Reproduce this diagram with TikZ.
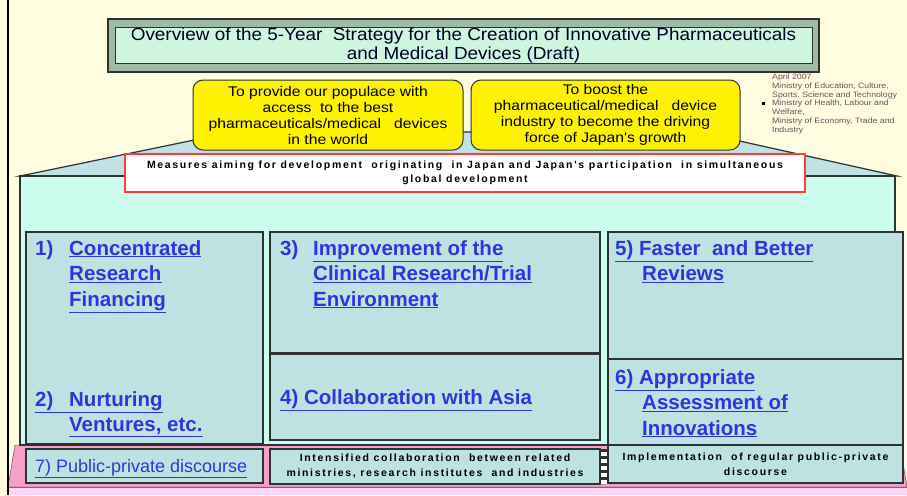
\documentclass[tikz,border=0pt]{standalone}
\definecolor{stratcream}{RGB}{255, 252, 224}
\definecolor{stratroof}{RGB}{192, 226, 228}
\definecolor{stratmint}{RGB}{204, 252, 238}
\definecolor{stratpanel}{RGB}{190, 226, 226}
\definecolor{stratblue}{RGB}{51, 51, 221}
\definecolor{stratred}{RGB}{255, 60, 60}
\definecolor{stratpink}{RGB}{244, 160, 200}
\definecolor{stratlightpink}{RGB}{255, 212, 245}
\definecolor{stratgreen}{RGB}{208, 245, 222}
\definecolor{stratbevel}{RGB}{160, 186, 166}
\definecolor{stratdark}{RGB}{45, 50, 50}
\definecolor{stratnote}{RGB}{110, 80, 95}
\usepackage{fontspec}
\setmainfont{Liberation Sans}
\newfontfamily\headfont[FakeStretch=1.08]{Liberation Sans}
\newfontfamily\goalfont[FakeStretch=1.12]{Liberation Sans}
\newfontfamily\trackfont[LetterSpace=16]{Liberation Sans}
\newfontfamily\notefont[FakeStretch=1.12]{Liberation Sans}

\begin{document}
\begin{tikzpicture}[x=1pt, y=-1pt,
    panel/.style={draw=stratdark, line width=1.2pt, fill=stratpanel, anchor=north west, inner sep=0pt, outer sep=0pt},
    goal/.style={draw=stratdark, line width=1pt, fill=yellow, rounded corners=10pt, minimum width=270pt, minimum height=70pt, align=center, inner sep=0pt, font=\goalfont\fontsize{14}{16}\selectfont},
    itemtext/.style={anchor=north west, align=left, inner sep=0pt, text=stratblue, font=\bfseries\fontsize{20.5}{25.5}\selectfont},
    smalltext/.style={align=center, inner sep=0pt, font=\trackfont\bfseries\fontsize{10.5}{15}\selectfont}]
    \useasboundingbox (0,0) rectangle (907,495);
    \fill[stratcream] (0,0) rectangle (907,495);

    % Pink base
    \filldraw[fill=stratpink, draw=stratdark] (8,487) -- (15,445) -- (900,445) -- (907,487) -- cycle;
    \fill[stratlightpink] (8,487) rectangle (907,495);
    \draw[stratpink!60!black] (8,487) -- (907,487);
    \draw[line width=1.5pt] (8,0) -- (8,495);

    % Roof and body
    \filldraw[fill=stratroof, draw=stratdark, line width=1.2pt] (20,176) -- (233,132) -- (699,132) -- (897,176) -- cycle;
    \filldraw[fill=stratmint, draw=stratdark, line width=1.2pt] (20,176) rectangle (895,445);

    % Measure panels
    \node[panel, minimum width=237pt, minimum height=212pt] (conc) at (26,232) {};
    \node[panel, minimum width=330pt, minimum height=121pt] (clin) at (270,232) {};
    \node[panel, minimum width=330pt, minimum height=87pt, line width=1.2pt] (asia) at (270,353) {};
    \draw[line width=3pt, stratdark] (asia.north west) -- (asia.north east);
    \node[panel, minimum width=295pt, minimum height=127pt] (rev) at (608,232) {};
    \node[panel, minimum width=295pt, minimum height=86pt] (assess) at (608,359) {};
    \node[panel, minimum width=237pt, minimum height=34pt] (pub) at (26,449) {};
    \node[panel, minimum width=330pt, minimum height=35pt] (intens) at (270,449) {};
    \node[panel, minimum width=295pt, minimum height=38pt] (impl) at (608,445) {};
    \draw[line width=2.5pt, stratdark] (impl.north west) -- (impl.north east);
    \draw[line width=6pt, white] ([xshift=4pt]intens.north east) -- ([xshift=4pt]intens.south east);
    \draw[line width=6pt, stratdark, dash pattern=on 3pt off 4pt] ([xshift=4pt]intens.north east) -- ([xshift=4pt]intens.south east);

    \node[itemtext] (t1) at (35,240) {\makebox[34pt][l]{1)}\underline{Concentrated}\\\hspace*{34pt}\underline{Research}\\\hspace*{34pt}\underline{Financing}};
    \node[itemtext] (t2) at (35,391) {\underline{\makebox[34pt][l]{2)}Nurturing}\\\hspace*{34pt}\underline{Ventures, etc.}};
    \node[itemtext] (t3) at (280,240) {\makebox[33pt][l]{3)}\underline{Improvement of the}\\\hspace*{33pt}\underline{Clinical Research/Trial}\\\hspace*{33pt}\underline{Environment}};
    \node[itemtext] (t4) at (280,389) {\underline{4) Collaboration with Asia}};
    \node[itemtext] (t5) at (615,240) {\underline{5) Faster \ and Better}\\\hspace*{27pt}\underline{Reviews}};
    \node[itemtext] (t6) at (615,369) {\underline{6) Appropriate}\\\hspace*{27pt}\underline{Assessment of}\\\hspace*{27pt}\underline{Innovations}};
    \node[itemtext, font=\fontsize{18}{20}\selectfont] (t7) at (35,459) {\underline{7) Public-private discourse}};
    \node[smalltext] (t8) at (intens.center) {Intensified collaboration \ between related\\ministries, research institutes \ and industries};
    \node[smalltext] (t9) at (impl.center) {Implementation \ of regular public-private\\discourse};

    % Title box
    \node[draw=stratdark, line width=1.2pt, fill=stratbevel, minimum width=711pt, minimum height=53pt, inner sep=0pt] (titleframe) at (463.5,45.5) {};
    \node[draw=stratdark, line width=1pt, fill=stratgreen, minimum width=697pt, minimum height=36pt, inner sep=0pt] (titlebox) at (titleframe.center) {};
    \node[align=center, inner sep=0pt, text=black!85!blue, font=\headfont\fontsize{17.5}{19}\selectfont] (title) at (titlebox.center) {Overview of the 5-Year \ Strategy for the Creation of Innovative Pharmaceuticals\\and Medical Devices (Draft)};

    % Goals
    \node[goal] (goalaccess) at (328,115) {To provide our populace with\\access \ to the best\\pharmaceuticals/medical \ \ devices\\in the world};
    \node[goal, minimum width=269pt] (goalgrowth) at (605.5,115) {To boost the\\pharmaceutical/medical \ \ device\\industry to become the driving\\force of Japan's growth};

    % Measures banner
    \node[draw=stratred, line width=2pt, fill=white, minimum width=680pt, minimum height=38pt, inner sep=0pt] (banner) at (465,173) {};
    \node[smalltext, font=\trackfont\bfseries\fontsize{10.5}{14}\selectfont] (bannertext) at (banner.center) {Measures aiming for development \ originating \ in Japan and Japan's participation \ in simultaneous\\global development};

    % Ministries note
    \node[anchor=north west, align=left, inner sep=0pt, text=stratnote, font=\notefont\fontsize{7.8}{8.7}\selectfont] (note) at (772,74) {April 2007\\Ministry of Education, Culture,\\Sports, Science and Technology\\Ministry of Health, Labour and\\Welfare,\\Ministry of Economy, Trade and\\Industry};
    \node[fill=black, minimum size=3pt, inner sep=0pt] (bullet) at (763,103) {};
\end{tikzpicture}
\end{document}
